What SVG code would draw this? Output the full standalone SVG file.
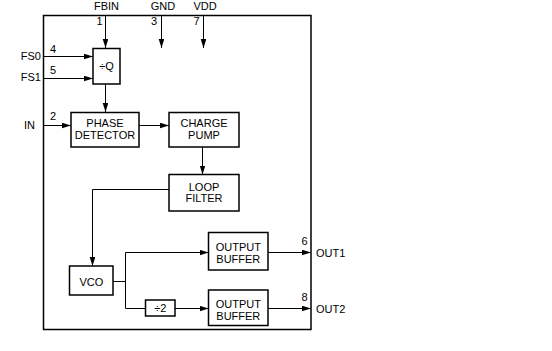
<svg xmlns="http://www.w3.org/2000/svg" width="552" height="351" viewBox="0 0 552 351">
<style>
.box{fill:#fff;stroke:#000;stroke-width:1.5}
.frame{fill:none;stroke:#000;stroke-width:1.5}
.wire{fill:none;stroke:#000;stroke-width:1}
.arr{marker-end:url(#ah)}
text{font-family:"Liberation Sans",Arial,sans-serif;font-size:11px;fill:#000}
.c{text-anchor:middle}
.r{text-anchor:end}
</style>
<defs>
<marker id="ah" markerUnits="userSpaceOnUse" markerWidth="10" markerHeight="7" refX="9" refY="2.8" orient="auto">
<path d="M0,0 L9,2.8 L0,5.6 z" fill="#000"/>
</marker>
</defs>
<rect fill="#fff" width="552" height="351"/>
<rect id="chip" class="frame" x="43.5" y="15.5" width="267.5" height="314"/>

<g id="connectors">
<path class="wire arr" d="M105.5,15.5 V48"/>
<path class="wire arr" d="M161.5,15.5 V48"/>
<path class="wire arr" d="M203.5,15.5 V48"/>
<path class="wire arr" d="M43.5,56.5 H93"/>
<path class="wire arr" d="M43.5,78.5 H93"/>
<path class="wire arr" d="M105.5,84 V112"/>
<path class="wire arr" d="M43.5,125.5 H71"/>
<path class="wire arr" d="M139,125.5 H169"/>
<path class="wire arr" d="M202.5,147 V174.5"/>
<path class="wire arr" d="M169,189.5 H92.5 V266"/>
<path class="wire" d="M113,281.5 H125.5"/>
<path class="wire arr" d="M125.5,308.5 V252.5 H208.5"/>
<path class="wire" d="M125.5,308.5 H145.5"/>
<path class="wire arr" d="M175,308.5 H208.5"/>
<path class="wire arr" d="M268,252.5 H311"/>
<path class="wire arr" d="M268,308.5 H311"/>
</g>

<g id="pins">
<text class="c" x="106.5" y="10">FBIN</text>
<text class="c" x="163" y="10">GND</text>
<text class="c" x="205" y="10">VDD</text>
<text x="96.5" y="25">1</text>
<text x="151" y="25">3</text>
<text x="193.5" y="25">7</text>
<text class="r" x="41" y="60">FS0</text>
<text class="r" x="41" y="81">FS1</text>
<text class="r" x="35" y="128.5">IN</text>
<text x="50" y="52.5">4</text>
<text x="50" y="73.5">5</text>
<text x="50" y="119.5">2</text>
<text x="301.5" y="245">6</text>
<text x="301.5" y="301">8</text>
<text x="316" y="256.5">OUT1</text>
<text x="316" y="312.5">OUT2</text>
</g>

<g id="divq">
<rect class="box" x="93" y="48.5" width="27" height="35.5"/>
<text class="c" x="106.5" y="70">÷Q</text>
</g>
<g id="phase-detector">
<rect class="box" x="71" y="112.5" width="68" height="34.5"/>
<text class="c" x="105" y="127.3">PHASE</text>
<text class="c" x="105" y="139.3">DETECTOR</text>
</g>
<g id="charge-pump">
<rect class="box" x="169" y="112.5" width="70" height="34.5"/>
<text class="c" x="204" y="127.3">CHARGE</text>
<text class="c" x="204" y="139.3">PUMP</text>
</g>
<g id="loop-filter">
<rect class="box" x="169" y="174.5" width="70" height="36.5"/>
<text class="c" x="204" y="190.5">LOOP</text>
<text class="c" x="204" y="202.3">FILTER</text>
</g>
<g id="vco">
<rect class="box" x="69.5" y="266" width="43.5" height="29"/>
<text class="c" x="91.3" y="285.5">VCO</text>
</g>
<g id="div2">
<rect class="box" x="145.5" y="300" width="29.5" height="16"/>
<text class="c" x="160.3" y="311.7">÷2</text>
</g>
<g id="output-buffer-1">
<rect class="box" x="208.5" y="232.5" width="59.5" height="37.5"/>
<text class="c" x="238.3" y="250.8">OUTPUT</text>
<text class="c" x="238.3" y="263">BUFFER</text>
</g>
<g id="output-buffer-2">
<rect class="box" x="208.5" y="290" width="59.5" height="35.5"/>
<text class="c" x="238.3" y="308">OUTPUT</text>
<text class="c" x="238.3" y="320">BUFFER</text>
</g>
</svg>
